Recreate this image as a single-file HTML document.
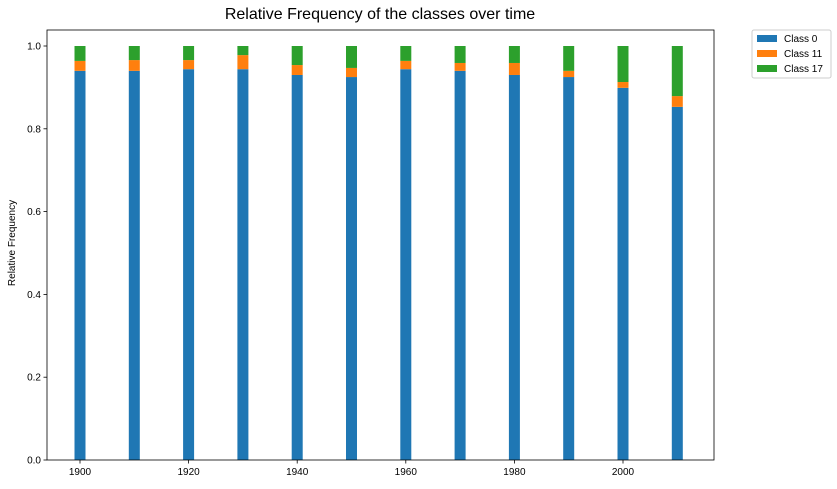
<!DOCTYPE html>
<html><head><meta charset="utf-8"><style>
body{margin:0;background:#fff;font-family:"Liberation Sans",sans-serif}
svg text{font-family:"Liberation Sans",sans-serif;fill:#000}
</style></head><body>
<svg id="chart" width="837" height="484">
<text x="380" y="19" font-size="16" text-anchor="middle">Relative Frequency of the classes over time</text>
<text transform="translate(15,243) rotate(-90)" font-size="10" text-anchor="middle">Relative Frequency</text>
<g id="bars"></g>
<g id="axes"></g>
<g>
<rect x="752" y="30" width="79" height="48" fill="#fff" stroke="#ccc" rx="2"/>
<rect x="757" y="35" width="20" height="7" fill="#1f77b4"/>
<text x="784" y="42" font-size="10">Class 0</text>
<rect x="757" y="50" width="20" height="7" fill="#ff7f0e"/>
<text x="784" y="57" font-size="10">Class 11</text>
<rect x="757" y="65" width="20" height="7" fill="#2ca02c"/>
<text x="784" y="72" font-size="10">Class 17</text>
</g>
</svg>
<script>
const years=[1900,1910,1920,1930,1940,1950,1960,1970,1980,1990,2000,2010];
const class0=[0.940,0.940,0.944,0.944,0.930,0.925,0.944,0.940,0.930,0.925,0.899,0.853];
const class11=[0.024,0.026,0.022,0.034,0.024,0.022,0.020,0.019,0.029,0.015,0.014,0.026];
const class17=[0.036,0.034,0.034,0.022,0.046,0.053,0.036,0.041,0.041,0.060,0.087,0.121];
const yTicks=[0,0.2,0.4,0.6,0.8,1.0];
const yTickLabels=["0.0","0.2","0.4","0.6","0.8","1.0"];
const xTicks=[1900,1920,1940,1960,1980,2000];
const NS="http://www.w3.org/2000/svg";
const L=47,R=714,T=30,B=460;
const xs=v=>80+(v-1900)*5.43;
const ys=v=>460-v*414;
const bars=document.getElementById('bars'),axes=document.getElementById('axes');
function mk(tag,attrs,parent){const e=document.createElementNS(NS,tag);for(const k in attrs)e.setAttribute(k,attrs[k]);parent.appendChild(e);return e;}
const series=[[class0,'#1f77b4','class-0'],[class11,'#ff7f0e','class-11'],[class17,'#2ca02c','class-17']];
years.forEach((yr,i)=>{let base=0;series.forEach(([arr,col,nm])=>{const v=arr[i];
const r=mk('rect',{x:xs(yr)-5.5,y:ys(base+v),width:11,height:ys(base)-ys(base+v),fill:col},bars);


base+=v;});});
const fr=mk('rect',{x:L,y:T,width:R-L,height:B-T,fill:'none',stroke:'#000','stroke-width':0.8},axes);


yTicks.forEach((t,i)=>{mk('line',{x1:L-3.5,x2:L,y1:ys(t),y2:ys(t),stroke:'#000','stroke-width':0.8},axes);
const tx=mk('text',{x:L-6,y:ys(t)+3.5,'font-size':10,'text-anchor':'end'},axes);tx.textContent=yTickLabels[i];

});
xTicks.forEach(t=>{mk('line',{x1:xs(t),x2:xs(t),y1:B,y2:B+3.5,stroke:'#000','stroke-width':0.8},axes);
const tx=mk('text',{x:xs(t),y:B+15,'font-size':10,'text-anchor':'middle'},axes);tx.textContent=t;

});
</script>
</body></html>
